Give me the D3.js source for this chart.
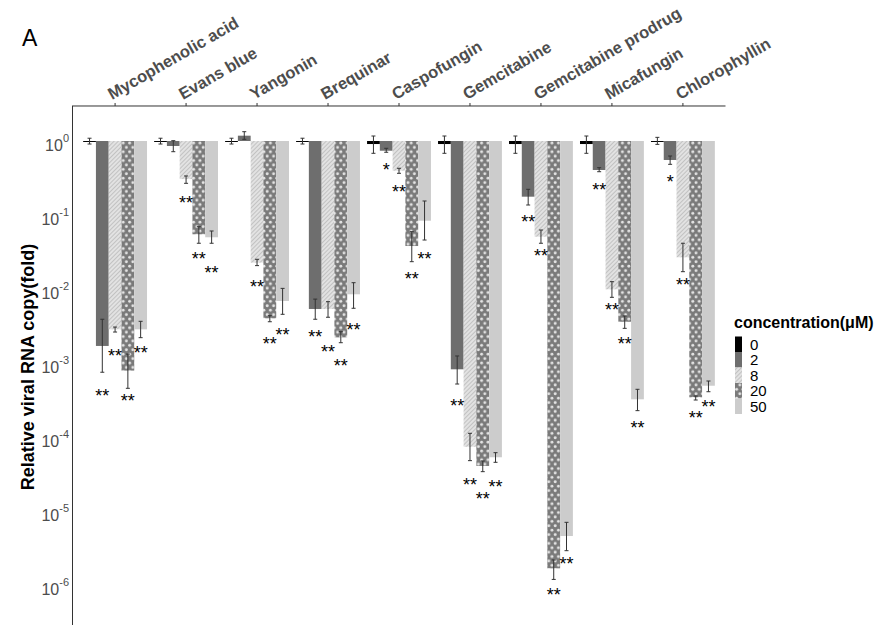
<html>
<head>
<meta charset="utf-8">
<script src="https://d3js.org/d3.v7.min.js"></script>
<style>
  body { margin: 0; background: #fff; }
  text { font-family: "Liberation Sans", Arial, sans-serif; }
</style>
</head>
<body>
<div id="chart"></div>
<script>
// drugs along the top axis, one group of five bars each
var drugs = ["Mycophenolic acid", "Evans blue", "Yangonin", "Brequinar", "Caspofungin",
             "Gemcitabine", "Gemcitabine prodrug", "Micafungin", "Chlorophyllin"];
var concentrations = ["0", "2", "8", "20", "50"];

// relative viral RNA copy (fold), one row per drug, columns = concentrations
var means = [
  [0.97, 1.70e-3, 2.85e-3, 7.9e-4, 2.85e-3],
  [0.97, 0.856, 0.306, 0.0549, 0.050],
  [0.97, 1.18, 0.0227, 4.02e-3, 6.89e-3],
  [0.97, 5.37e-3, 5.37e-3, 2.22e-3, 8.48e-3],
  [0.91, 0.739, 0.397, 0.0381, 0.0837],
  [0.91, 8.22e-4, 7.38e-5, 4.06e-5, 5.32e-5],
  [0.91, 0.1768, 0.0509, 1.68e-6, 4.59e-6],
  [0.91, 0.4055, 9.9e-3, 3.61e-3, 3.23e-4],
  [0.97, 0.554, 0.0268, 3.44e-4, 4.93e-4]
];
var errHigh = [
  [1.09, 3.9e-3, 3.06e-3, 1.32e-3, 3.66e-3],
  [1.09, 1.01, 0.337, 0.0695, 0.0608],
  [1.09, 1.336, 0.0252, 4.36e-3, 0.0102],
  [1.09, 7.3e-3, 6.74e-3, 2.65e-3, 0.01217],
  [1.168, 0.797, 0.428, 0.0595, 0.1546],
  [1.168, 1.244e-3, 1.122e-4, 4.74e-5, 6.14e-5],
  [1.168, 0.2225, 0.0627, 2.18e-6, 7.03e-6],
  [1.168, 0.4357, 0.01256, 4.32e-3, 4.41e-4],
  [1.12, 0.627, 0.0415, 3.58e-4, 5.71e-4]
];
var errLow = [
  [0.91, 7.5e-4, 2.62e-3, 4.55e-4, 2.2e-3],
  [0.91, 0.717, 0.268, 0.0415, 0.0415],
  [0.91, 1.054, 0.0207, 3.61e-3, 4.55e-3],
  [0.91, 3.9e-3, 4.15e-3, 1.88e-3, 5.49e-3],
  [0.682, 0.704, 0.366, 0.0234, 0.0459],
  [0.682, 5.2e-4, 4.79e-5, 3.4e-5, 4.55e-5],
  [0.682, 0.1365, 0.0415, 1.19e-6, 2.91e-6],
  [0.682, 0.3846, 7.72e-3, 2.94e-3, 2.27e-4],
  [0.90, 0.484, 0.01714, 3.16e-4, 4.09e-4]
];
// significance marks and the level (in fold) where each one is printed
var sigMarks = [
  ["", "**", "**", "**", "**"],
  ["", "", "**", "**", "**"],
  ["", "", "**", "**", "**"],
  ["", "**", "**", "**", "**"],
  ["", "*", "**", "**", "**"],
  ["", "**", "**", "**", "**"],
  ["", "**", "**", "**", "**"],
  ["", "**", "**", "**", "**"],
  ["", "*", "**", "**", "**"]
];
var sigPos = [
  [1, 4.1e-4, 1.41e-3, 3.5e-4, 1.55e-3],
  [1, 1, 0.166, 0.0288, 0.01846],
  [1, 1, 0.01217, 2.05e-3, 2.71e-3],
  [1, 2.57e-3, 1.58e-3, 1.02e-3, 3.19e-3],
  [1, 0.459, 0.234, 0.0153, 0.0288],
  [1, 3.0e-4, 2.57e-5, 1.64e-5, 2.41e-5],
  [1, 0.0902, 0.0319, 8.4e-7, 2.18e-6],
  [1, 0.2465, 5.89e-3, 2.05e-3, 1.49e-4],
  [1, 0.313, 0.0128, 2.05e-4, 2.85e-4]
];
var yTicks = [1, 1e-1, 1e-2, 1e-3, 1e-4, 1e-5, 1e-6];
var yExponents = ["0", "-1", "-2", "-3", "-4", "-5", "-6"];

var width = 889, height = 625;
var svg = d3.select("#chart").append("svg")
  .attr("width", width).attr("height", height);

// patterns for the 8 and 20 uM bars
var defs = svg.append("defs");
var hatch = defs.append("pattern")
  .attr("id", "hatch").attr("patternUnits", "userSpaceOnUse")
  .attr("width", 3).attr("height", 3)
  .attr("patternTransform", "rotate(45)");
hatch.append("rect").attr("width", 3).attr("height", 3).attr("fill", "#e2e2e2");
hatch.append("line").attr("x1", 0.5).attr("y1", 0).attr("x2", 0.5).attr("y2", 3)
  .attr("stroke", "#c2c2c2").attr("stroke-width", 1);

var dots = defs.append("pattern")
  .attr("id", "dots").attr("patternUnits", "userSpaceOnUse")
  .attr("width", 6.4).attr("height", 8.8);
dots.append("rect").attr("width", 6.4).attr("height", 8.8).attr("fill", "#7a7a7a");
[[1.6, 2.2], [4.8, 6.6]].forEach(function (p) {
  dots.append("circle").attr("cx", p[0]).attr("cy", p[1]).attr("r", 1.45).attr("fill", "#e4e4e4");
});

var fills = ["#000000", "#6e6e6e", "url(#hatch)", "url(#dots)", "#cccccc"];

// scales
var x = d3.scalePoint().domain(drugs).range([72.5, 725.5]).padding(0.6);
var step = x.step();
var xInner = d3.scaleBand().domain(concentrations).range([-0.45 * step, 0.45 * step]);
var y = d3.scaleLog().domain([1, 1e-6]).range([141, 585]);
var axisTop = y(10 ** 0.473);

// bars
var rows = [];
drugs.forEach(function (d, i) {
  concentrations.forEach(function (c, j) {
    rows.push({drug: d, conc: c, j: j, v: means[i][j], lo: errLow[i][j], hi: errHigh[i][j],
               sig: sigMarks[i][j], sigAt: sigPos[i][j]});
  });
});

var g = svg.append("g");
g.selectAll("rect.bar").data(rows).enter().append("rect")
  .attr("class", "bar")
  .attr("x", function (d) { return x(d.drug) + xInner(d.conc); })
  .attr("width", xInner.bandwidth())
  .attr("y", function (d) { return Math.min(y(d.v), y(1)); })
  .attr("height", function (d) { return Math.abs(y(d.v) - y(1)); })
  .attr("fill", function (d) { return fills[d.j]; });

// error bars
var cx = function (d) { return x(d.drug) + xInner(d.conc) + xInner.bandwidth() / 2; };
var eb = g.selectAll("g.err").data(rows).enter().append("g")
  .attr("stroke", "#333").attr("stroke-width", 1);
eb.append("line")
  .attr("x1", cx).attr("x2", cx)
  .attr("y1", function (d) { return y(d.hi); }).attr("y2", function (d) { return y(d.lo); });
eb.append("line")
  .attr("x1", function (d) { return cx(d) - 2; }).attr("x2", function (d) { return cx(d) + 2; })
  .attr("y1", function (d) { return y(d.hi); }).attr("y2", function (d) { return y(d.hi); });
eb.append("line")
  .attr("x1", function (d) { return cx(d) - 2; }).attr("x2", function (d) { return cx(d) + 2; })
  .attr("y1", function (d) { return y(d.lo); }).attr("y2", function (d) { return y(d.lo); });

// significance stars
g.selectAll("text.sig").data(rows.filter(function (d) { return d.sig; })).enter().append("text")
  .attr("class", "sig")
  .attr("x", cx)
  .attr("y", function (d) { return y(d.sigAt) + 10; })
  .attr("text-anchor", "middle")
  .style("font-size", "18px")
  .text(function (d) { return d.sig; });

// axes: y on the left, drug names along the top
svg.append("line")
  .attr("x1", 72.5).attr("x2", 72.5).attr("y1", axisTop).attr("y2", height)
  .attr("stroke", "#333").attr("stroke-width", 1);
svg.append("line")
  .attr("x1", 72).attr("x2", 725.5).attr("y1", axisTop).attr("y2", axisTop)
  .attr("stroke", "#333").attr("stroke-width", 1);

svg.selectAll("line.xtick").data(drugs).enter().append("line")
  .attr("x1", function (d) { return x(d); }).attr("x2", function (d) { return x(d); })
  .attr("y1", axisTop).attr("y2", axisTop - 3)
  .attr("stroke", "#333");
svg.selectAll("text.xlab").data(drugs).enter().append("text")
  .attr("transform", function (d) { return "translate(" + (x(d) - 3) + "," + (axisTop - 6) + ") rotate(-30)"; })
  .style("font-size", "16.5px").style("font-weight", "bold").attr("fill", "#4d4d4d")
  .text(function (d) { return d; });

var yl = svg.selectAll("text.ylab").data(yTicks).enter().append("text")
  .attr("x", 69).attr("y", function (d) { return y(d) + 10; })
  .attr("text-anchor", "end").attr("fill", "#4d4d4d")
  .style("font-size", "16px");
yl.append("tspan").text("10");
yl.append("tspan").attr("dy", -9).style("font-size", "11px")
  .text(function (d, i) { return yExponents[i]; });

svg.append("text")
  .attr("transform", "translate(34,367) rotate(-90)")
  .attr("text-anchor", "middle")
  .style("font-size", "18px").style("font-weight", "bold")
  .text("Relative viral RNA copy(fold)");

svg.append("text").attr("x", 22).attr("y", 46)
  .style("font-size", "23px").text("A");

// legend
var leg = svg.append("g").attr("transform", "translate(735,0)");
leg.append("text").attr("x", -1).attr("y", 328)
  .style("font-size", "16px").style("font-weight", "bold")
  .text("concentration(\u03bcM)");
leg.selectAll("rect").data(concentrations).enter().append("rect")
  .attr("x", 0).attr("y", function (d, i) { return 336.5 + i * 15.5; })
  .attr("width", 7).attr("height", 15.5)
  .attr("fill", function (d, i) { return fills[i]; });
leg.selectAll("text.lk").data(concentrations).enter().append("text")
  .attr("x", 15).attr("y", function (d, i) { return 336.5 + i * 15.5 + 13; })
  .style("font-size", "15px")
  .text(function (d) { return d; });
</script>
</body>
</html>
